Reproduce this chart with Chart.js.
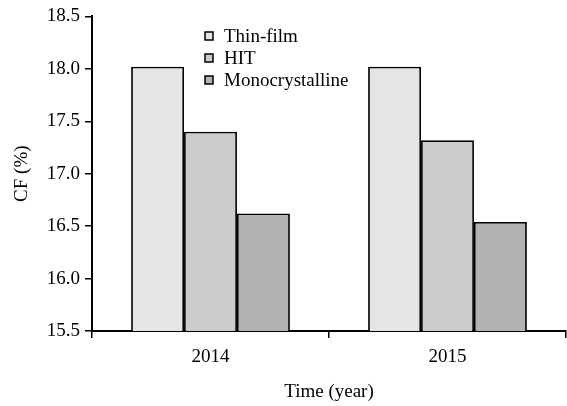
<!DOCTYPE html>
<html>
<head>
<meta charset="utf-8">
<script src="https://cdn.jsdelivr.net/npm/chart.js@4.4.1/dist/chart.umd.min.js"></script>
<style>
  html, body { margin: 0; padding: 0; background: #fff; }
  #wrap { width: 567px; height: 406px; position: relative; }
</style>
</head>
<body>
<div id="wrap"><canvas id="chart"></canvas></div>
<script>
const years = ["2014", "2015"];
const seriesNames = ["Thin-film", "HIT", "Monocrystalline"];
const thinFilm = [18.02, 18.02];
const hit = [17.40, 17.32];
const mono = [16.62, 16.54];
const fills = ["#e5e5e5", "#cccccc", "#b2b2b2"];
const yMin = 15.5;
const yMax = 18.5;
const yStep = 0.5;

const serif = "'Liberation Serif', 'Times New Roman', serif";

// legend drawn inside the plot area, like the original figure
const insideLegend = {
  id: "insideLegend",
  afterDraw(chart) {
    const ctx = chart.ctx;
    ctx.save();
    ctx.font = "19px " + serif;
    ctx.textBaseline = "middle";
    chart.data.datasets.forEach((ds, i) => {
      const y = 36 + i * 22;
      ctx.fillStyle = ds.backgroundColor;
      ctx.fillRect(205, y - 4, 8, 8);
      ctx.strokeStyle = "#000";
      ctx.lineWidth = 1.5;
      ctx.strokeRect(205, y - 4, 8, 8);
      ctx.fillStyle = "#000";
      ctx.fillText(ds.label, 224, y + 1);
    });
    ctx.restore();
  },
};

const chart = new Chart(document.getElementById("chart"), {
  type: "bar",
  data: {
    labels: years,
    datasets: [thinFilm, hit, mono].map((vals, i) => ({
      label: seriesNames[i],
      data: vals,
      backgroundColor: fills[i],
      borderColor: "#000",
      borderWidth: 1.8,
      borderSkipped: false,
      barPercentage: 1,
      categoryPercentage: 0.67,
    })),
  },
  options: {
    responsive: true,
    maintainAspectRatio: false,
    animation: false,
    layout: { padding: { top: 16, right: 1, left: 0, bottom: 0 } },
    plugins: {
      legend: { display: false },
      tooltip: { enabled: false },
    },
    scales: {
      x: {
        grid: {
          display: true,
          offset: true,
          drawOnChartArea: false,
          drawTicks: true,
          tickLength: 7,
          color: "#000",
          lineWidth: 1.5,
        },
        border: { display: true, color: "#000", width: 2 },
        ticks: {
          color: "#000",
          font: { family: serif, size: 19 },
          padding: 8,
        },
        title: {
          display: true,
          text: "Time (year)",
          color: "#000",
          font: { family: serif, size: 19 },
          padding: { top: 0, bottom: 3 },
        },
        afterFit(scale) { scale.height = 75; },
      },
      y: {
        min: yMin,
        max: yMax,
        grid: {
          display: true,
          drawOnChartArea: false,
          drawTicks: true,
          tickLength: 7,
          color: "#000",
          lineWidth: 1.5,
        },
        border: { display: true, color: "#000", width: 2 },
        ticks: {
          stepSize: yStep,
          color: "#000",
          font: { family: serif, size: 19 },
          padding: 5,
          callback: (v) => v.toFixed(1),
        },
        title: {
          display: true,
          text: "CF (%)",
          color: "#000",
          font: { family: serif, size: 19 },
          padding: { top: 11, bottom: 0 },
        },
        afterFit(scale) { scale.width = 92; },
      },
    },
  },
  plugins: [insideLegend],
});
</script>
</body>
</html>
